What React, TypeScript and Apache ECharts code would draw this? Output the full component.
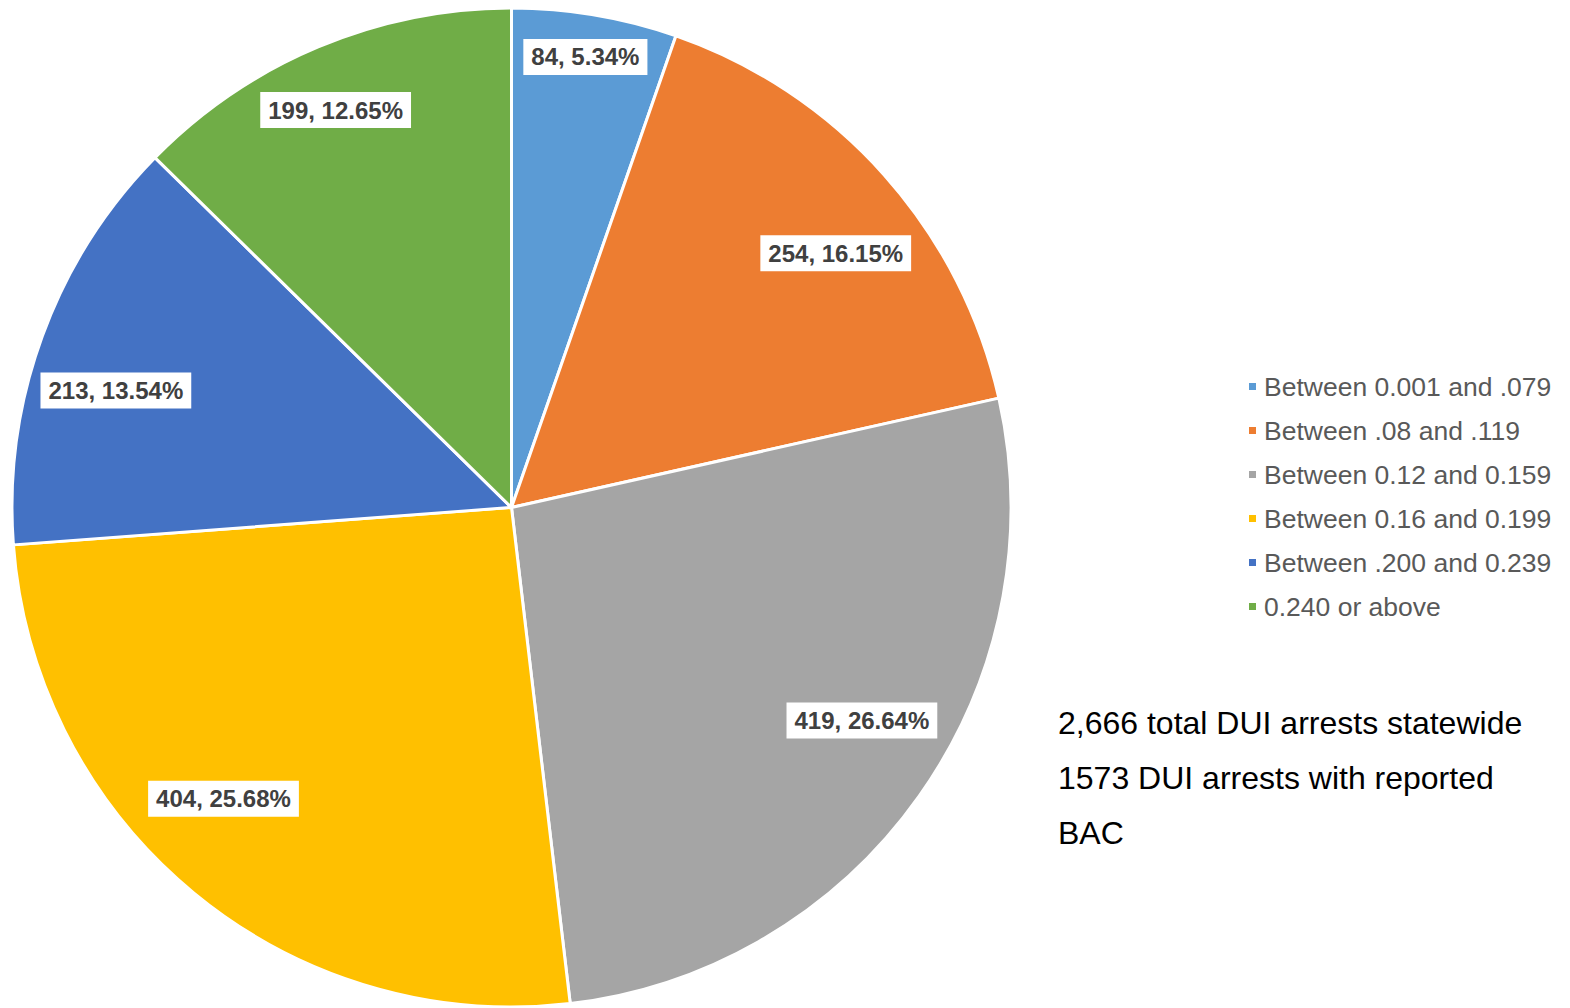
import React, { useEffect, useRef } from "react";
import * as echarts from "echarts";

const categories = [
  "Between 0.001 and .079",
  "Between .08 and .119",
  "Between 0.12 and 0.159",
  "Between 0.16 and 0.199",
  "Between .200 and 0.239",
  "0.240 or above",
];
const counts = [84, 254, 419, 404, 213, 199];
const percents = ["5.34%", "16.15%", "26.64%", "25.68%", "13.54%", "12.65%"];
const colors = ["#5B9BD5", "#ED7D31", "#A5A5A5", "#FFC000", "#4472C4", "#70AD47"];
const noteLines = [
  "2,666 total DUI arrests statewide",
  "1573 DUI arrests with reported",
  "BAC",
];
// "best fit" label placement: radius as a fraction of the pie radius,
// and angular shift (degrees, clockwise) from each slice's bisector
const labelRadiusFrac = [0.914, 0.825, 0.821, 0.82, 0.826, 0.87];
const labelAngleShift = [-0.3, 3.6, -4.0, 5.2, -3.6, -1.1];

const CX = 511.5;
const CY = 507.5;
const R = 499.5;
const FONT = "Arial, 'Liberation Sans', sans-serif";

export default function App() {
  const ref = useRef<HTMLDivElement>(null);
  useEffect(() => {
    if (!ref.current) return;
    const chart = echarts.init(ref.current, null, { renderer: "svg" });
    const total = counts.reduce((a, b) => a + b, 0);
    const mids: number[] = [];
    let acc = 0;
    counts.forEach((c) => {
      mids.push((acc + c / 2) / total);
      acc += c;
    });
    const data = categories.map((name, i) => ({
      name,
      value: counts[i],
      itemStyle: { color: colors[i] },
      label: { formatter: `${counts[i]}, ${percents[i]}` },
    }));
    chart.setOption({
      animation: false,
      backgroundColor: "#ffffff",
      legend: {
        orient: "vertical",
        left: 1247,
        top: 373,
        padding: 0,
        itemWidth: 9,
        itemHeight: 9,
        itemGap: 17,
        icon: "rect",
        data: categories,
        textStyle: {
          fontFamily: FONT,
          fontSize: 26.5,
          lineHeight: 27,
          color: "#595959",
          padding: [0, 0, 0, 2],
        },
      },
      graphic: noteLines.map((t, i) => ({
        type: "text",
        left: 1058,
        top: 707 + i * 55,
        style: {
          text: t,
          fontFamily: FONT,
          fontSize: 32,
          fill: "#000000",
        },
      })),
      series: [
        {
          type: "pie",
          center: [CX, CY],
          radius: [0, R],
          startAngle: 90,
          clockwise: true,
          data,
          labelLine: { show: false },
          label: {
            show: true,
            position: "inside",
            fontFamily: FONT,
            fontSize: 24,
            lineHeight: 23,
            fontWeight: "bold",
            color: "#404040",
            backgroundColor: "#ffffff",
            padding: [7, 8, 6, 8],
          },
          labelLayout: (params: any) => {
            const i = params.dataIndex;
            const th = mids[i] * Math.PI * 2 + (labelAngleShift[i] * Math.PI) / 180;
            const rr = R * labelRadiusFrac[i];
            return {
              x: CX + rr * Math.sin(th),
              y: CY - rr * Math.cos(th),
              align: "center",
              verticalAlign: "middle",
            };
          },
          itemStyle: { borderColor: "#ffffff", borderWidth: 3 },
          emphasis: { disabled: true },
        },
      ],
    });
    return () => chart.dispose();
  }, []);
  return (
    <div
      ref={ref}
      style={{ position: "fixed", left: 0, top: 0, width: 1570, height: 1008 }}
    />
  );
}
